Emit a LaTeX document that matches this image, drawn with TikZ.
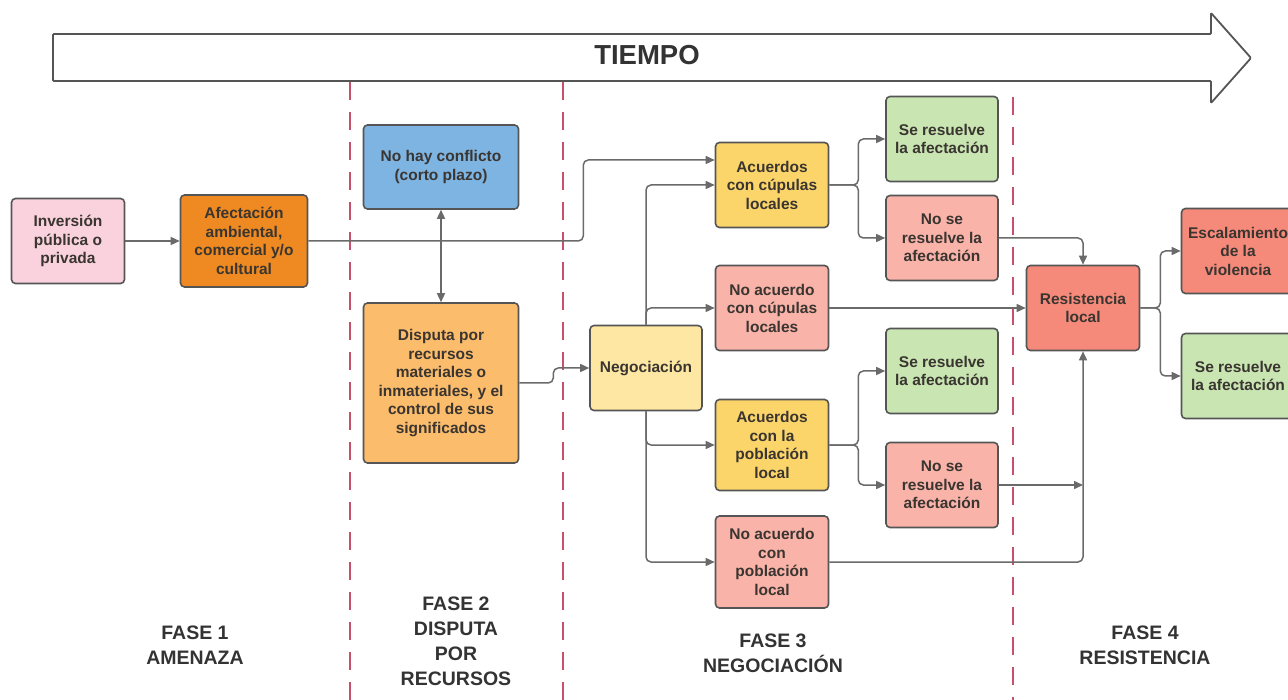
\documentclass[tikz,border=0pt]{standalone}
\usepackage{fontspec}
\setmainfont{Liberation Sans}
\usetikzlibrary{arrows.meta}
\definecolor{rosa}{HTML}{F9D2DD}
\definecolor{naranja}{HTML}{EE8A21}
\definecolor{azul}{HTML}{7DB4E2}
\definecolor{naranjaclaro}{HTML}{FBBC6C}
\definecolor{amarilloclaro}{HTML}{FDE7A2}
\definecolor{amarillo}{HTML}{FBD56A}
\definecolor{salmon}{HTML}{F9B3A9}
\definecolor{verde}{HTML}{C8E5B2}
\definecolor{rojo}{HTML}{F58A7A}
\definecolor{boxline}{HTML}{555555}
\definecolor{boxtext}{HTML}{3A3530}
\definecolor{fasetext}{HTML}{333333}
\definecolor{conn}{HTML}{6A6A6A}
\definecolor{dashred}{HTML}{C9506A}

\begin{document}
\begin{tikzpicture}[x=1pt,y=-1pt,
  box/.style={draw=boxline,line width=1.6pt,rounded corners=4pt,align=center,text=boxtext,inner sep=2pt,minimum width=113,minimum height=85,font=\bfseries\fontsize{15.5}{18.5}\selectfont},
  arr/.style={draw=conn,line width=1.5pt,rounded corners=5pt,-{Triangle[length=9pt,width=8pt]}},
  dbl/.style={arr,{Triangle[length=9pt,width=8pt]}-{Triangle[length=9pt,width=8pt]}},
  fase/.style={align=center,text=fasetext,font=\bfseries\fontsize{19.5}{25}\selectfont},
  limite/.style={draw=dashred,line width=1.5pt,dash pattern=on 18pt off 12pt}]
\useasboundingbox (0,0) rectangle (1288,700);
% phase limits
\path[limite] (350,82) -- (350,700);
\path[limite] (563,82) -- (563,700);
\path[limite] (1013,97) -- (1013,700);
% time arrow
\draw[draw=boxline,line width=1.8pt,fill=white,rounded corners=1pt] (53,34) -- (1211,34) -- (1211,13) -- (1251,58) -- (1211,103) -- (1211,81) -- (53,81) -- cycle;
\node[text=fasetext,font=\bfseries\fontsize{27.5}{30}\selectfont] (tiempo) at (647,55) {TIEMPO};
% boxes
\node[box,fill=rosa] (1) at (68,241) {Inversión\\pública o\\privada};
\node[box,fill=naranja,minimum width=127,minimum height=92] (2) at (244,241) {Afectación\\ambiental,\\comercial y/o\\cultural};
\node[box,fill=azul,minimum width=155,minimum height=84] (3) at (441,167) {No hay conflicto\\(corto plazo)};
\node[box,fill=naranjaclaro,minimum width=155,minimum height=160] (4) at (441,383) {Disputa por\\recursos\\materiales o\\inmateriales, y el\\control de sus\\significados};
\node[box,fill=amarilloclaro,minimum width=112] (5) at (646,368) {Negociación};
\node[box,fill=amarillo] (6) at (772,185) {Acuerdos\\con cúpulas\\locales};
\node[box,fill=salmon] (7) at (772,308) {No acuerdo\\con cúpulas\\locales};
\node[box,fill=amarillo,minimum height=91] (8) at (772,445) {Acuerdos\\con la\\población\\local};
\node[box,fill=salmon,minimum height=92] (9) at (772,562) {No acuerdo\\con\\población\\local};
\node[box,fill=verde,minimum width=112] (10) at (942,139) {Se resuelve\\la afectación};
\node[box,fill=salmon,minimum width=112] (11) at (942,238) {No se\\resuelve la\\afectación};
\node[box,fill=verde,minimum width=112] (12) at (942,371) {Se resuelve\\la afectación};
\node[box,fill=salmon,minimum width=112] (13) at (942,485) {No se\\resuelve la\\afectación};
\node[box,fill=rojo] (14) at (1083,308) {Resistencia\\local};
\node[box,fill=rojo] (15) at (1238,251) {Escalamiento\\de la\\violencia};
\node[box,fill=verde] (16) at (1238,376) {Se resuelve\\la afectación};
% phase labels
\node[fase] (f1) at (195,645) {FASE 1\\AMENAZA};
\node[fase] (f2) at (456,641) {FASE 2\\DISPUTA\\POR\\RECURSOS};
\node[fase] (f3) at (773,653) {FASE 3\\NEGOCIACIÓN};
\node[fase] (f4) at (1145,645) {FASE 4\\RESISTENCIA};
% connectors
\path[arr] (1) -- (2);
\path[arr] (2.east) -- ++(275,0) |- ([yshift=25pt]6.west);
\path[dbl] (3) -- (4);
\path[arr] (4.east) -- ++(34,0) |- (5.west);
\path[arr] (5.north) |- (6.west);
\path[arr] (5.north) |- (7.west);
\path[arr] (5.south) |- (8.west);
\path[arr] (5.south) |- (9.west);
\path[arr] (6.east) -- ++(29,0) |- (10.west);
\path[arr] (6.east) -- ++(29,0) |- (11.west);
\path[arr] (8.east) -- ++(29,0) |- (12.west);
\path[arr] (8.east) -- ++(29,0) |- (13.west);
\path[arr] (7) -- (14);
\path[arr] (11.east) -| (14.north);
\path[arr] (9.east) -| (14.south);
\path[arr] (13.east) -- (13.east -| 14.south);
\path[arr] (14.east) -- ++(20,0) |- (15.west);
\path[arr] (14.east) -- ++(20,0) |- (16.west);
\end{tikzpicture}
\end{document}
